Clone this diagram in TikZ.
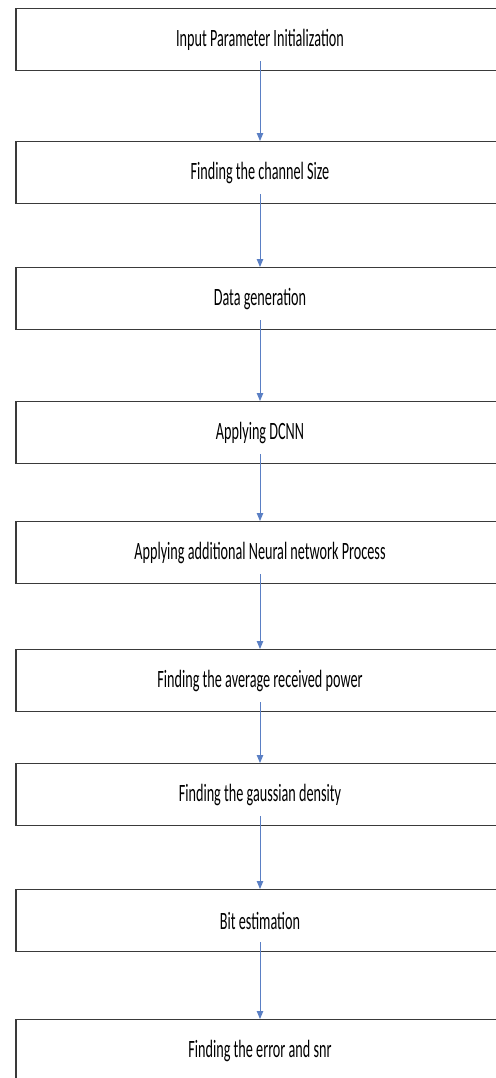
\documentclass[tikz,border=0pt]{standalone}
\usepackage{fontspec}
\setmainfont{Carlito}
\usetikzlibrary{arrows.meta}
\definecolor{arrowblue}{HTML}{5A7FC4}
\definecolor{boxline}{HTML}{3A3A3A}
\tikzset{
  stepbox/.style={draw=boxline, line width=1.3bp, fill=white, minimum width=488bp, minimum height=62bp, inner sep=0pt, anchor=north,
    font=\fontsize{25}{28}\selectfont},
  flow/.style={draw=arrowblue, line width=0.9bp, -{Triangle[length=8bp,width=6.5bp]}}
}
\newcommand{\sq}[1]{\scalebox{0.57}[1]{#1}}
\begin{document}
\begin{tikzpicture}[x=1bp,y=-1bp]
\useasboundingbox (0,0) rectangle (496,1078);
\clip (0,0) rectangle (496,1078);
\node[stepbox] (b1) at (260,8) {\sq{Input Parameter Initialization}};
\node[stepbox] (b2) at (260,141) {\sq{Finding the channel Size}};
\node[stepbox] (b3) at (260,267) {\sq{Data generation}};
\node[stepbox] (b4) at (260,401) {\sq{Applying DCNN}};
\node[stepbox] (b5) at (260,521) {\sq{Applying additional Neural network Process}};
\node[stepbox] (b6) at (260,649) {\sq{Finding the average received power}};
\node[stepbox] (b7) at (260,763) {\sq{Finding the gaussian density}};
\node[stepbox] (b8) at (260,889) {\sq{Bit estimation}};
\node[stepbox] (b9) at (260,1019) {\sq{Finding the error and snr}};
\foreach \a/\b in {b1/b2,b2/b3,b3/b4,b4/b5,b5/b6,b6/b7,b7/b8,b8/b9}{
  \draw[flow] ([yshift=10bp]\a.south) -- (\b.north);
}
\end{tikzpicture}
\end{document}
